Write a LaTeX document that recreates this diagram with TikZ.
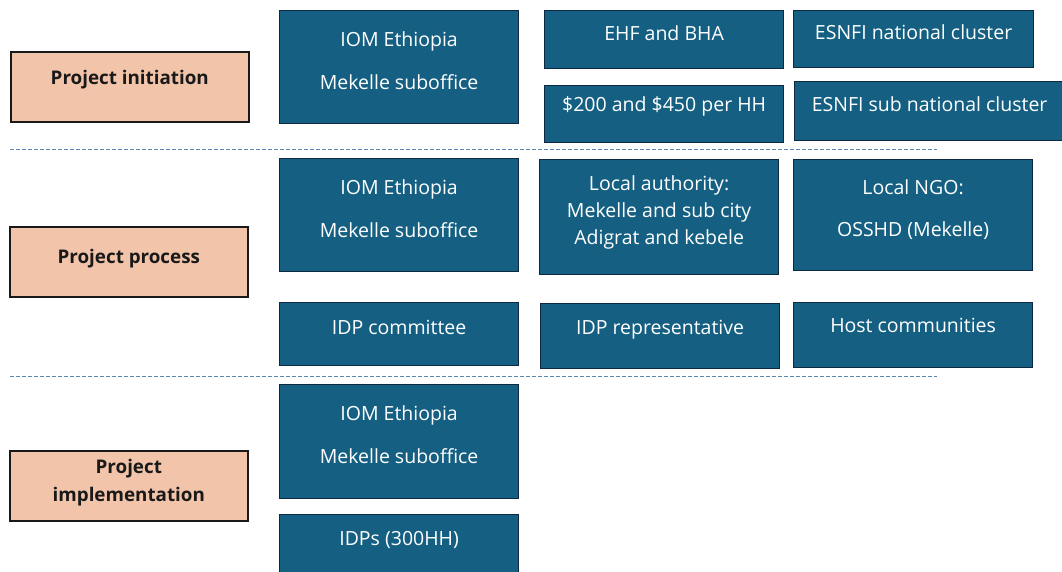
\documentclass[tikz,border=0pt]{standalone}
\usepackage{fontspec}
\setmainfont{Open Sans}
\usepackage{tikz}
\usetikzlibrary{positioning}
\usepackage{xcolor}
\definecolor{officeblue}{HTML}{156082}
\definecolor{darknavy}{HTML}{0E2841}
\definecolor{peach}{HTML}{F2C4AA}
\definecolor{sepblue}{HTML}{5B86B0}

\begin{document}
\begin{tikzpicture}[
    x=1pt, y=-1pt,
    phase/.style={rectangle, draw=black!90, fill=peach, line width=1.6pt, anchor=north west, minimum width=238pt, minimum height=70pt, align=center, font=\fontsize{18.8}{28}\selectfont\bfseries, text=black!90, execute at end node={\rule[-10pt]{0pt}{0pt}}},
    blk/.style={rectangle, draw=darknavy, fill=officeblue, line width=1.2pt, anchor=north west, minimum width=239pt, align=center, font=\fontsize{19.5}{27}\selectfont, text=white, inner sep=2pt, execute at end node={\rule[-14pt]{0pt}{0pt}}},
    sep/.style={draw=sepblue, line width=0.8pt, dash pattern=on 4pt off 2pt}
]
\useasboundingbox (0,0) rectangle (1062,571);

% Phases (left column)
\node[phase, execute at end node={\rule[-18pt]{0pt}{0pt}}] (init) at (10,51) {Project initiation};
\node[phase] (proc) at (9,226) {Project process};
\node[phase, execute at begin node={\rule{0pt}{33pt}}] (impl) at (9,450) {Project\\implementation};

% Project initiation
\node[blk, minimum height=113pt] (iomA) at (279,10) {IOM Ethiopia\\[16pt]Mekelle suboffice};
\node[blk, minimum height=58pt] (donor) at (544,10) {EHF and BHA};
\node[blk, minimum height=57pt, below=16pt of donor.south west, anchor=north west, execute at end node={\rule[-20pt]{0pt}{0pt}}] (amount) {\$200 and \$450 per HH};
\node[blk, minimum height=57pt, minimum width=240pt] (natcl) at (793,10) {ESNFI national cluster};
\node[blk, minimum height=59pt, minimum width=270pt] (subcl) at (794,81) {ESNFI sub national cluster};

% Project process
\node[blk, minimum height=113pt] (iomB) at (279,158) {IOM Ethiopia\\[16pt]Mekelle suboffice};
\node[blk, minimum height=115pt] (locauth) at (539,159) {Local authority:\\Mekelle and sub city\\Adigrat and kebele};
\node[blk, minimum height=111pt] (ngo) at (793,159) {Local NGO:\\[15pt]OSSHD (Mekelle)};
\node[blk, minimum height=63pt] (idpcom) at (279,302) {IDP committee};
\node[blk, minimum height=65pt, execute at end node={\rule[-18pt]{0pt}{0pt}}] (idprep) at (540,303) {IDP representative};
\node[blk, minimum height=65pt, execute at end node={\rule[-20pt]{0pt}{0pt}}] (host) at (793,302) {Host communities};

% Project implementation
\node[blk, minimum height=114pt] (iomC) at (279,384) {IOM Ethiopia\\[16pt]Mekelle suboffice};
\node[blk, minimum height=62pt, below=15pt of iomC.south west, anchor=north west] (idps) {IDPs (300HH)};

% Separators
\coordinate (sepA) at (10,149);
\coordinate (sepAend) at (937,149);
\coordinate (sepB) at (10,376);
\coordinate (sepBend) at (937,376);
\draw[sep] (sepA) -- (sepAend);
\draw[sep] (sepB) -- (sepBend);

\end{tikzpicture}
\end{document}
